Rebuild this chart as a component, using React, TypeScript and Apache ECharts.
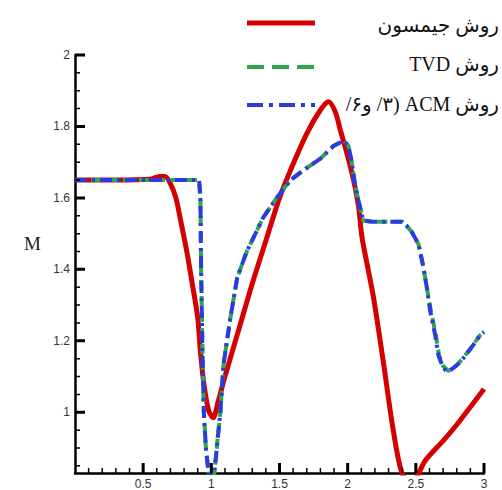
import React, { useEffect, useRef } from "react";
import * as echarts from "echarts";

// ---- data ----
const legendNames = ["روش جیمسون", "روش TVD", "روش ACM \u200F(۳/ و۶/"];
const yAxisName = "M";

const xTickLabels = [0.5, 1, 1.5, 2, 2.5, 3];
const xMinorTicks = [0.1, 0.2, 0.3, 0.4, 0.6, 0.7, 0.8, 0.9, 1.1, 1.2, 1.3, 1.4, 1.6, 1.7, 1.8, 1.9, 2.1, 2.2, 2.3, 2.4, 2.6, 2.7, 2.8, 2.9];
const yTickLabels = [1, 1.2, 1.4, 1.6, 1.8, 2];
const yMinorTicks = [0.85, 0.9, 0.95, 1.05, 1.1, 1.15, 1.25, 1.3, 1.35, 1.45, 1.5, 1.55, 1.65, 1.7, 1.75, 1.85, 1.9, 1.95];
const X_MIN = 0;
const X_MAX = 3;
const Y_MIN = 0.83;
const Y_MAX = 2;

const jamesonX = [0, 0.3, 0.55, 0.62, 0.66, 0.7, 0.74, 0.77, 0.82, 0.86, 0.9, 0.92, 0.945, 0.98, 1.013, 1.05, 1.1, 1.2, 1.3, 1.4, 1.5, 1.58, 1.7, 1.8, 1.86, 1.91, 1.946, 1.995, 2.043, 2.08, 2.105, 2.15, 2.19, 2.26, 2.33, 2.39, 2.45, 2.5, 2.57, 2.7, 2.8, 2.9, 3.0];
const jamesonM = [1.65, 1.65, 1.652, 1.66, 1.66, 1.64, 1.6, 1.546, 1.45, 1.36, 1.265, 1.17, 1.08, 1.005, 0.985, 1.03, 1.1, 1.23, 1.36, 1.48, 1.6, 1.677, 1.78, 1.846, 1.869, 1.84, 1.79, 1.724, 1.65, 1.575, 1.49, 1.4, 1.32, 1.145, 0.96, 0.84, 0.8, 0.815, 0.865, 0.92, 0.965, 1.015, 1.065];

const tvdX = [0, 0.5, 0.91, 0.92, 0.925, 0.935, 0.945, 0.96, 0.98, 1.0, 1.02, 1.045, 1.066, 1.09, 1.14, 1.19, 1.26, 1.38, 1.48, 1.58, 1.675, 1.8, 1.895, 1.97, 2.006, 2.03, 2.056, 2.09, 2.115, 2.18, 2.3, 2.4, 2.43, 2.47, 2.52, 2.556, 2.58, 2.61, 2.645, 2.67, 2.7, 2.74, 2.78, 2.825, 2.9, 2.97, 3.0];
const tvdM = [1.65, 1.65, 1.65, 1.6, 1.4, 1.17, 1.0, 0.9, 0.83, 0.8, 0.82, 0.92, 1.0, 1.136, 1.265, 1.377, 1.45, 1.545, 1.6, 1.65, 1.677, 1.71, 1.745, 1.76, 1.745, 1.7, 1.63, 1.575, 1.537, 1.533, 1.533, 1.533, 1.523, 1.505, 1.47, 1.405, 1.35, 1.285, 1.22, 1.16, 1.13, 1.115, 1.125, 1.142, 1.178, 1.215, 1.225];

const acmX = [0, 0.5, 0.91, 0.92, 0.925, 0.935, 0.945, 0.96, 0.98, 1.0, 1.02, 1.045, 1.066, 1.09, 1.14, 1.19, 1.26, 1.38, 1.48, 1.58, 1.675, 1.8, 1.895, 1.97, 2.006, 2.03, 2.056, 2.09, 2.115, 2.18, 2.3, 2.4, 2.43, 2.47, 2.52, 2.556, 2.58, 2.605, 2.64, 2.665, 2.7, 2.73, 2.78, 2.825, 2.9, 2.97, 3.0];
const acmM = [1.65, 1.65, 1.65, 1.6, 1.4, 1.17, 1.0, 0.9, 0.83, 0.8, 0.82, 0.92, 1.0, 1.136, 1.265, 1.377, 1.45, 1.545, 1.6, 1.65, 1.677, 1.71, 1.745, 1.76, 1.745, 1.7, 1.63, 1.575, 1.537, 1.533, 1.533, 1.533, 1.523, 1.505, 1.47, 1.405, 1.35, 1.285, 1.22, 1.16, 1.125, 1.113, 1.125, 1.14, 1.177, 1.215, 1.225];

const RED = "#d40000";
const GREEN = "#2aa84a";
const BLUE = "#2a3ce0";

// layout (pixels)
const W = 502;
const H = 490;
const GRID = { left: 75, right: 18, top: 55, bottom: 17 };

const zip = (xs: number[], ys: number[]) => xs.map((x, i) => [x, ys[i]]);
const rtl = (s: string) => "\u202B" + s + "\u202C";

export default function App() {
  const ref = useRef<HTMLDivElement>(null);
  useEffect(() => {
    if (!ref.current) return;
    const chart = echarts.init(ref.current, null, { renderer: "svg" });
    const labelFont = { fontFamily: "'Liberation Sans', Arial, sans-serif", fontSize: 12, color: "#333" };
    const legendFont = "20px 'Liberation Serif', 'DejaVu Sans', serif";
    const legendRows = [
      { y: 23, color: RED, width: 5, dash: null as any, text: legendNames[0], ty: 25 },
      { y: 67, color: GREEN, width: 4, dash: [17, 8], text: legendNames[1], ty: 64 },
      { y: 105, color: BLUE, width: 4, dash: [16, 6, 4, 6], text: legendNames[2], ty: 104 },
    ];
    const graphic: any[] = [];
    legendRows.forEach((r) => {
      graphic.push({
        type: "line",
        z: 100,
        shape: { x1: 247, y1: r.y, x2: 315, y2: r.y },
        style: { stroke: r.color, lineWidth: r.width, lineDash: r.dash || undefined },
      });
      graphic.push({
        type: "text",
        z: 101,
        x: 499,
        y: r.ty,
        style: {
          text: rtl(r.text),
          font: legendFont,
          fill: "#111",
          textAlign: "right",
          textVerticalAlign: "middle",
          align: "right",
          verticalAlign: "middle",
        },
      });
    });
    graphic.push({
      type: "text",
      x: 24,
      y: 243,
      style: {
        text: yAxisName,
        font: "19px 'Liberation Serif', serif",
        fill: "#222",
        textVerticalAlign: "middle",
        verticalAlign: "middle",
      },
    });

    // tick marks as short line segments in data space (lengths converted from pixels)
    const unitX = (X_MAX - X_MIN) / (W - GRID.left - GRID.right);
    const unitY = (Y_MAX - Y_MIN) / (H - GRID.top - GRID.bottom);
    const xTickSegs = (vals: number[], lenPx: number) =>
      vals.flatMap((v) => [[v, Y_MIN], [v, Y_MIN + lenPx * unitY], ["-", "-"]]);
    const yTickSegs = (vals: number[], lenPx: number) =>
      vals.flatMap((v) => [[X_MIN, v], [X_MIN + lenPx * unitX, v], ["-", "-"]]);
    const tickLine = (data: any[], width: number) => ({
      type: "line",
      data,
      showSymbol: false,
      symbol: "none",
      connectNulls: false,
      silent: true,
      clip: false,
      z: 6,
      lineStyle: { color: "#000", width, cap: "butt" },
    });

    chart.setOption({
      animation: false,
      backgroundColor: "#ffffff",
      grid: GRID,
      xAxis: {
        type: "value",
        min: X_MIN,
        max: X_MAX,
        interval: 0.5,
        axisLine: { show: true, onZero: false, lineStyle: { color: "#000", width: 2.5 } },
        axisTick: { show: false },
        splitLine: { show: false },
        axisLabel: {
          ...labelFont,
          margin: 5,
          showMaxLabel: true,
          formatter: (v: number) => (xTickLabels.includes(v) ? String(v) : ""),
        },
      },
      yAxis: {
        type: "value",
        min: Y_MIN,
        max: Y_MAX,
        axisLine: { show: true, onZero: false, lineStyle: { color: "#000", width: 2.5 } },
        axisTick: { show: false },
        splitLine: { show: false },
        axisLabel: { ...labelFont, margin: 5, customValues: yTickLabels, formatter: (v: number) => String(v) },
      },
      series: [
        {
          name: legendNames[0],
          type: "line",
          data: zip(jamesonX, jamesonM),
          showSymbol: false,
          symbol: "none",
          smooth: 0.3,
          clip: true,
          lineStyle: { color: RED, width: 5 },
          z: 3,
        },
        {
          name: legendNames[1],
          type: "line",
          data: zip(tvdX, tvdM),
          showSymbol: false,
          symbol: "none",
          clip: true,
          lineStyle: { color: GREEN, width: 4, type: [10, 6] },
          z: 4,
        },
        {
          name: legendNames[2],
          type: "line",
          data: zip(acmX, acmM),
          showSymbol: false,
          symbol: "none",
          clip: true,
          lineStyle: { color: BLUE, width: 4, type: [12, 5, 3, 5] },
          z: 5,
        },
        tickLine(xTickSegs(xTickLabels, 10), 3),
        tickLine(xTickSegs(xMinorTicks, 5), 1.5),
        tickLine(yTickSegs(yTickLabels, 10), 3),
        tickLine(yTickSegs(yMinorTicks, 5), 1.5),
      ],
      graphic,
    });

    return () => chart.dispose();
  }, []);
  return <div ref={ref} style={{ position: "absolute", left: 0, top: 0, width: W, height: H }} />;
}
